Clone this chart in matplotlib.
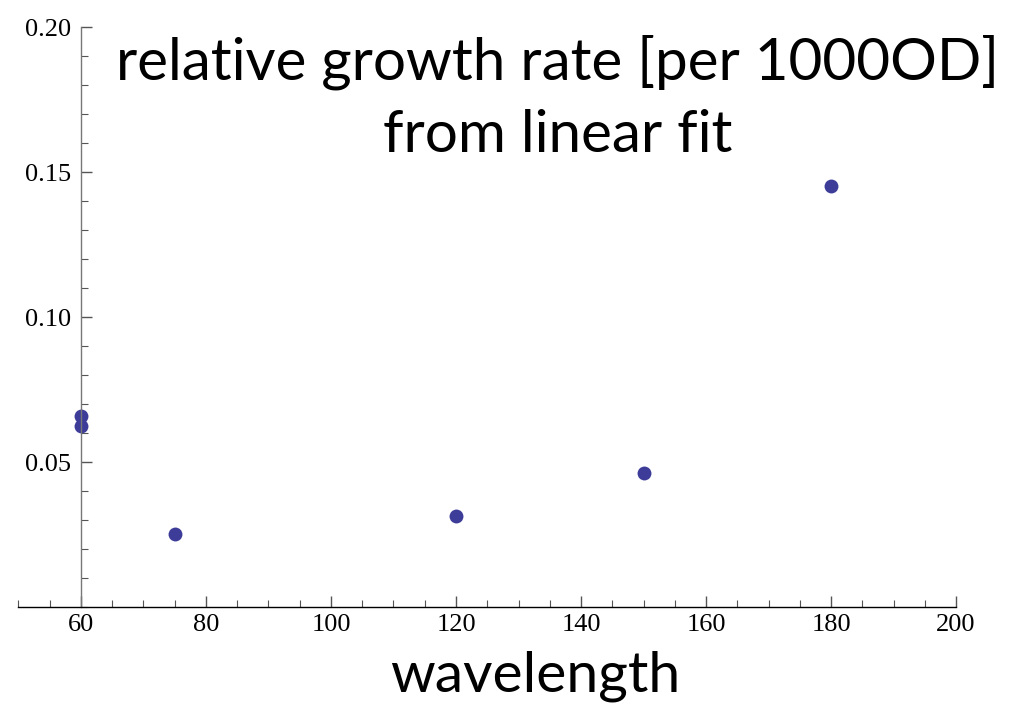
import numpy as np
import matplotlib
matplotlib.use("Agg")
import matplotlib.pyplot as plt
from matplotlib.ticker import MultipleLocator, FormatStrFormatter

# relative growth rate vs wavelength
wavelength = [60, 60, 75, 120, 150, 180]
growth_rate = [0.0660, 0.0626, 0.0252, 0.0315, 0.0462, 0.1454]

title_lines = ["relative growth rate [per 1000OD]", "from linear fit"]
xlabel = "wavelength"

fig = plt.figure(figsize=(10.17, 7.04), dpi=100)
ax = fig.add_axes([18.5 / 1017, (704 - 607.3) / 704, 937.5 / 1017, 580 / 704])

ax.plot(wavelength, growth_rate, "o", color="#3d3d99", markersize=10, markeredgewidth=0)

ax.set_xlim(50, 200)
ax.set_ylim(0, 0.20)

# axes cross at x=60, y=0
ax.spines["left"].set_position(("data", 60))
ax.spines["left"].set_color("#777777")
ax.spines["bottom"].set_color("black")
ax.spines["top"].set_visible(False)
ax.spines["right"].set_visible(False)
for s in ("left", "bottom"):
    ax.spines[s].set_linewidth(1.0)
ax.patch.set_visible(False)

ax.xaxis.set_major_locator(MultipleLocator(20))
ax.xaxis.set_minor_locator(MultipleLocator(5))
ax.yaxis.set_major_locator(MultipleLocator(0.05))
ax.yaxis.set_minor_locator(MultipleLocator(0.01))
ax.yaxis.set_major_formatter(FormatStrFormatter("%.2f"))
ax.set_xticks([60, 80, 100, 120, 140, 160, 180, 200])
ax.set_yticks([0.05, 0.10, 0.15, 0.20])

ax.tick_params(axis="both", which="major", direction="in", length=8, width=1.0,
               color="#555555", labelsize=19)
ax.tick_params(axis="both", which="minor", direction="in", length=5, width=0.8,
               color="#555555")
ax.tick_params(axis="x", which="major", pad=5)
ax.tick_params(axis="y", which="major", pad=7)
for lab in ax.get_xticklabels() + ax.get_yticklabels():
    lab.set_family("Liberation Serif")

fig.text(558 / 1017, 1 - 79 / 704, title_lines[0], ha="center", va="baseline",
         fontsize=42, family="Lato")
fig.text(558 / 1017, 1 - 152 / 704, title_lines[1], ha="center", va="baseline",
         fontsize=42, family="Lato")
fig.text(535 / 1017, 1 - 692 / 704, xlabel, ha="center", va="baseline",
         fontsize=41, family="Lato")

fig.savefig("out.png", dpi=100)
